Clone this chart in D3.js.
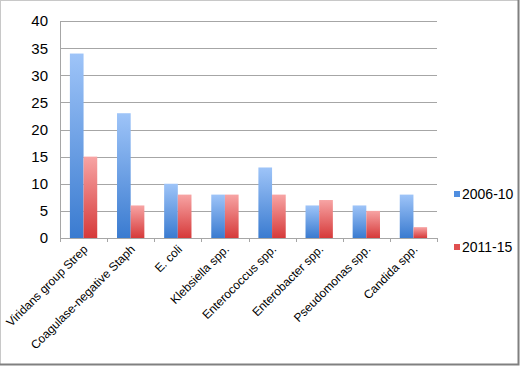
<!DOCTYPE html>
<html>
<head>
<meta charset="utf-8">
<script src="https://cdn.jsdelivr.net/npm/d3@7"></script>
<style>
  html, body { margin: 0; padding: 0; background: #fff; }
  svg { display: block; font-family: "Liberation Sans", Arial, sans-serif; }
</style>
</head>
<body>
<div id="chart"></div>
<script>
// organisms and counts per period
const categories = ["Viridans group Strep", "Coagulase-negative Staph", "E. coli", "Klebsiella spp.",
  "Enterococcus spp.", "Enterobacter spp.", "Pseudomonas spp.", "Candida spp."]
const seriesNames = ["2006-10", "2011-15"]
const values2006 = [34, 23, 10, 8, 13, 6, 6, 8]
const values2011 = [15, 6, 8, 8, 8, 7, 5, 2]
const yTicks = [0, 5, 10, 15, 20, 25, 30, 35, 40]

const width = 520
const height = 366
const margin = { top: 21, right: 83, bottom: 128, left: 60 }

const svg = d3.select("#chart").append("svg")
  .attr("width", width)
  .attr("height", height)

// bar gradients, light on top, darker at the base
const defs = svg.append("defs")
const grads = [
  { id: "gBlue", top: "#9ec4f8", bottom: "#3a7bd0" },
  { id: "gRed", top: "#f7a4a4", bottom: "#d63a3a" }
]
grads.forEach(g => {
  const lg = defs.append("linearGradient")
    .attr("id", g.id)
    .attr("x1", 0).attr("y1", 0).attr("x2", 0).attr("y2", 1)
  lg.append("stop").attr("offset", "0%").attr("stop-color", g.top)
  lg.append("stop").attr("offset", "100%").attr("stop-color", g.bottom)
})

const x = d3.scaleBand()
  .domain(categories)
  .range([margin.left, width - margin.right])
  .paddingInner(0.42)
  .paddingOuter(0.21)

const xSub = d3.scaleBand()
  .domain(seriesNames)
  .range([0, x.bandwidth()])

const y = d3.scaleLinear()
  .domain([0, 40])
  .range([height - margin.bottom, margin.top])

// grid lines
svg.append("g")
  .selectAll("line")
  .data(yTicks)
  .join("line")
  .attr("x1", margin.left)
  .attr("x2", width - margin.right)
  .attr("y1", d => Math.round(y(d)) + 0.5)
  .attr("y2", d => Math.round(y(d)) + 0.5)
  .attr("stroke", "#a6a6a6")
  .attr("stroke-width", 1)

// y axis labels
svg.append("g")
  .selectAll("text")
  .data(yTicks)
  .join("text")
  .attr("x", margin.left - 12)
  .attr("y", d => y(d))
  .attr("dy", "0.36em")
  .attr("text-anchor", "end")
  .attr("font-size", "15px")
  .attr("fill", "#000")
  .text(d => d)

// left axis line
svg.append("line")
  .attr("x1", margin.left + 0.5).attr("x2", margin.left + 0.5)
  .attr("y1", y(40)).attr("y2", y(0))
  .attr("stroke", "#a6a6a6")

// bars
const groups = svg.append("g")
  .selectAll("g")
  .data(categories)
  .join("g")
  .attr("transform", d => `translate(${x(d)},0)`)

groups.selectAll("rect")
  .data((d, i) => [
    { key: seriesNames[0], v: values2006[i], fill: "url(#gBlue)" },
    { key: seriesNames[1], v: values2011[i], fill: "url(#gRed)" }
  ])
  .join("rect")
  .attr("x", d => xSub(d.key))
  .attr("y", d => y(d.v))
  .attr("width", xSub.bandwidth())
  .attr("height", d => y(0) - y(d.v))
  .attr("fill", d => d.fill)

// x axis with boundary ticks
const bounds = d3.range(categories.length + 1).map(i => margin.left + i * (width - margin.right - margin.left) / categories.length)
svg.append("line")
  .attr("x1", margin.left).attr("x2", width - margin.right)
  .attr("y1", Math.round(y(0)) + 0.5).attr("y2", Math.round(y(0)) + 0.5)
  .attr("stroke", "#a6a6a6")
svg.append("g")
  .selectAll("line")
  .data(bounds)
  .join("line")
  .attr("x1", d => Math.round(d) + 0.5).attr("x2", d => Math.round(d) + 0.5)
  .attr("y1", y(0)).attr("y2", y(0) + 4)
  .attr("stroke", "#a6a6a6")

// rotated category labels
svg.append("g")
  .selectAll("text")
  .data(categories)
  .join("text")
  .attr("transform", d => `translate(${x(d) + x.bandwidth() / 2 + 5},${y(0) + 12}) rotate(-45)`)
  .attr("text-anchor", "end")
  .attr("font-size", "12px")
  .attr("fill", "#000")
  .text(d => d)

// legend
const legend = svg.append("g")
const legendItems = [
  { name: seriesNames[0], color: "#4f8ee0", y: 194 },
  { name: seriesNames[1], color: "#e05050", y: 247 }
]
legend.selectAll("rect")
  .data(legendItems)
  .join("rect")
  .attr("x", 454)
  .attr("y", d => d.y - 3)
  .attr("width", 6)
  .attr("height", 6)
  .attr("fill", d => d.color)
legend.selectAll("text")
  .data(legendItems)
  .join("text")
  .attr("x", 462)
  .attr("y", d => d.y)
  .attr("dy", "0.36em")
  .attr("font-size", "14px")
  .attr("fill", "#000")
  .text(d => d.name)

// outer frame
svg.append("rect")
  .attr("x", 0.5).attr("y", 0.5)
  .attr("width", width - 2).attr("height", height - 2)
  .attr("fill", "none")
  .attr("stroke", "#c8c8c8")
svg.append("path")
  .attr("d", `M${width - 1.5},0V${height - 1.5}H0`)
  .attr("fill", "none")
  .attr("stroke", "#808080")
  .attr("stroke-width", 2)
</script>
</body>
</html>
